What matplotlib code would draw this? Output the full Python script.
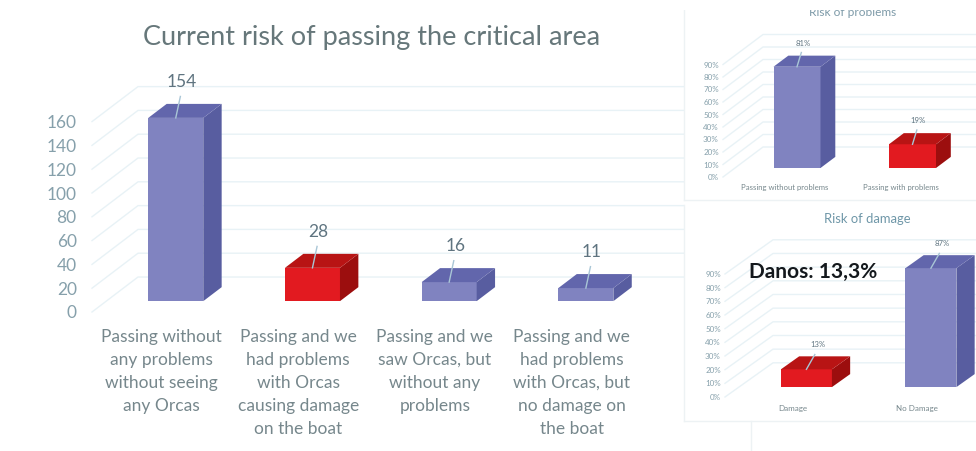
import matplotlib
matplotlib.use("Agg")
from matplotlib import pyplot as plt
from matplotlib.patches import Polygon, Rectangle

plt.rcParams['font.family'] = ['Lato', 'DejaVu Sans']

# Data
main_title = "Current risk of passing the critical area"
main_labels = ["Passing without\nany problems\nwithout seeing\nany Orcas",
               "Passing and we\nhad problems\nwith Orcas\ncausing damage\non the boat",
               "Passing and we\nsaw Orcas, but\nwithout any\nproblems",
               "Passing and we\nhad problems\nwith Orcas, but\nno damage on\nthe boat"]
main_values = [154, 28, 16, 11]
main_kinds = ["blue", "red", "blue", "blue"]
main_ticks = [0, 20, 40, 60, 80, 100, 120, 140, 160]

problem_title = "Risk of problems"
problem_labels = ["Passing without problems", "Passing with problems"]
problem_values = [81, 19]
problem_kinds = ["blue", "red"]

damage_title = "Risk of damage"
damage_labels = ["Damage", "No Damage"]
damage_values = [13, 87]
damage_kinds = ["red", "blue"]

pct_ticks = [0, 10, 20, 30, 40, 50, 60, 70, 80, 90]
note_text = "Danos: 13,3%"

W, H = 976, 451
GRID = "#e8f2f6"
TICK = "#86a0ab"
LABEL = "#76878c"
FACES = {"blue": ("#8083c0", "#585da0", "#6266ac"),
         "red": ("#e21a20", "#9c0e0e", "#b81414")}


def make_axes(fig, left, right, bottom, top, first, spacing, per_unit):
    # pixel box -> axes, x scale from first category centre and spacing
    ax = fig.add_axes([left / W, 1 - bottom / H, (right - left) / W, (bottom - top) / H])
    ax.set_xlim((left - first) / spacing, (right - first) / spacing)
    ax.set_ylim(0, (bottom - top) / per_unit)
    ax.patch.set_alpha(0)
    for s in ax.spines.values():
        s.set_visible(False)
    return ax


def draw_bars(ax, values, kinds, dx, dy, d0, d1, width, val_fmt, val_size, lab_x, lab_y):
    for i, (v, kind) in enumerate(zip(values, kinds)):
        front, side, top = FACES[kind]
        x0 = i + d0 * dx - width / 2
        x1 = x0 + width
        y0 = d0 * dy
        y1 = y0 + v
        ox = (d1 - d0) * dx
        oy = (d1 - d0) * dy
        ax.bar(x0 + width / 2, v, width, bottom=y0, color=front, clip_on=False, zorder=3)
        ax.add_patch(Polygon([(x1, y0), (x1 + ox, y0 + oy), (x1 + ox, y1 + oy), (x1, y1)],
                             color=side, clip_on=False, zorder=3, lw=0))
        ax.add_patch(Polygon([(x0, y1), (x1, y1), (x1 + ox, y1 + oy), (x0 + ox, y1 + oy)],
                             color=top, clip_on=False, zorder=3, lw=0))
        cx = x0 + width / 2
        ax.plot([cx, cx + lab_x * 0.75], [y1, y1 + lab_y * 0.6], color="#a9c6d6", lw=1,
                clip_on=False, zorder=4)
        ax.text(cx + lab_x, y1 + lab_y, val_fmt.format(v), ha="center", va="center",
                fontsize=val_size, color="#5f7480", clip_on=False, zorder=5)


def draw_wall(ax, ticks, dx, dy, right):
    left = ax.get_xlim()[0]
    for t in ticks:
        ax.plot([left, left + dx, right], [t, t + dy, t + dy], color=GRID, lw=1,
                clip_on=False, zorder=1)


def set_axis(ax, ticks, tick_fmt, labels, tick_size, lab_size, y_pad, x_pad, spacing):
    ax.set_yticks(ticks)
    ax.set_yticklabels([tick_fmt.format(t) for t in ticks], fontsize=tick_size, color=TICK)
    ax.set_xticks(range(len(labels)))
    ax.set_xticklabels(labels, fontsize=lab_size, color=LABEL, linespacing=spacing)
    ax.tick_params(axis="y", length=0, pad=y_pad)
    ax.tick_params(axis="x", length=0, pad=x_pad)


fig = plt.figure(figsize=(W / 100, H / 100), dpi=100)

# main chart
ax = make_axes(fig, 92, 684, 312, 85, 161.5, 136.7, 1.19)
draw_wall(ax, main_ticks, 46 / 136.7, 29.4, ax.get_xlim()[1])
draw_bars(ax, main_values, main_kinds, 46 / 136.7, 29.4, 0.31, 0.71, 55 / 136.7, "{}", 12.5, 0.045, 30)
set_axis(ax, main_ticks, "{}", main_labels, 12.5, 12.5, 11, 12, 1.54)
fig.text(372 / W, 1 - 38 / H, main_title, ha="center", va="center", fontsize=19.5, color="#66777a")

# risk of problems panel
ax2 = make_axes(fig, 723, 976, 177, 35, 785, 115.5, 1.25)
draw_wall(ax2, pct_ticks, 40 / 115.5, 24, ax2.get_xlim()[1])
draw_bars(ax2, problem_values, problem_kinds, 40 / 115.5, 24, 0.3, 0.67, 47 / 115.5, "{}%", 5.6, 0.05, 19)
set_axis(ax2, pct_ticks, "{}%", problem_labels, 5.8, 5.6, 3, 5, 1.2)
fig.text(853 / W, 1 - 13 / H, problem_title, ha="center", va="center", fontsize=8.6, color="#7d9aa8")

# risk of damage panel
ax3 = make_axes(fig, 725, 976, 397, 240, 792.5, 124.5, 1.367)
draw_wall(ax3, pct_ticks, 48 / 124.5, 25, ax3.get_xlim()[1])
draw_bars(ax3, damage_values, damage_kinds, 48 / 124.5, 25, 0.29, 0.67, 51 / 124.5, "{}%", 5.6, 0.09, 18)
set_axis(ax3, pct_ticks, "{}%", damage_labels, 5.8, 5.8, 3, 6, 1.2)
fig.text(867 / W, 1 - 219 / H, damage_title, ha="center", va="center", fontsize=9.4, color="#6f97a8")
fig.text(813 / W, 1 - 272 / H, note_text, ha="center", va="center", fontsize=15,
         fontweight="bold", color="#14181c", zorder=10)

# faint panel borders
for xs, ys in [((684, 976), (200, 200)), ((684, 684), (0, 200)), ((684, 976), (421, 421)),
               ((684, 684), (205, 421)), ((751, 751), (421, 451))]:
    fig.add_artist(plt.Line2D([x / W for x in xs], [1 - y / H for y in ys], color="#edf2f4", lw=1))

# the small title is cut off at the top in the original
fig.add_artist(Rectangle((680 / W, 1 - 10 / H), 296 / W, 10 / H, color="white", lw=0, zorder=20,
                         transform=fig.transFigure))

fig.savefig("out.png", dpi=100)
